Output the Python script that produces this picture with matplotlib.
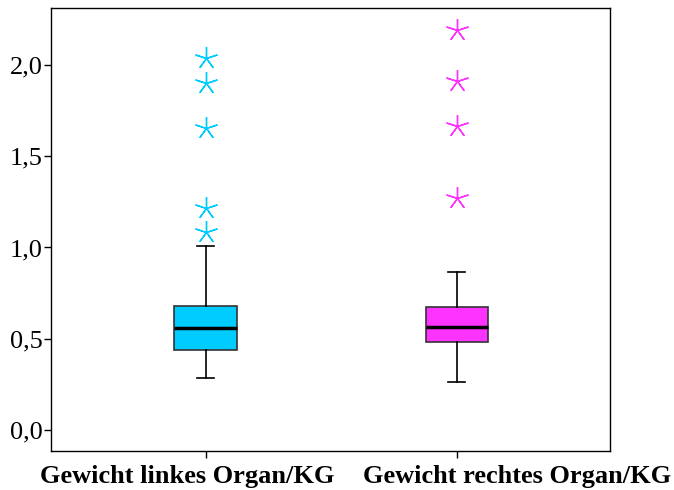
import matplotlib
matplotlib.use("Agg")
import matplotlib.pyplot as plt
import matplotlib.transforms as mtransforms
import numpy as np

categories = ["Gewicht linkes Organ/KG", "Gewicht rechtes Organ/KG"]
q1 = [0.438, 0.480]
median = [0.559, 0.566]
q3 = [0.679, 0.676]
whislo = [0.285, 0.261]
whishi = [1.010, 0.867]
outliers = [[2.036, 1.900, 1.653, 1.218, 1.087],
            [2.190, 1.912, 1.666, 1.270]]
colors = ["#00CCFF", "#FF33FF"]
yticks = [0.0, 0.5, 1.0, 1.5, 2.0]
ytick_labels = ["0,0", "0,5", "1,0", "1,5", "2,0"]

plt.rcParams['font.family'] = ['Liberation Serif', 'DejaVu Serif']

fig = plt.figure(figsize=(6.74, 4.90), dpi=100)
ax = fig.add_axes([51/674, 1-451/490, 559/674, 443/490])

stats = []
for i in range(2):
    stats.append(dict(med=median[i], q1=q1[i], q3=q3[i], whislo=whislo[i],
                      whishi=whishi[i], fliers=[], label=categories[i]))

bp = ax.bxp(stats, positions=[1, 2], widths=0.25, patch_artist=True,
            showfliers=False, capwidths=0.068,
            medianprops=dict(color="black", linewidth=2.5),
            whiskerprops=dict(color="black", linewidth=1.2),
            capprops=dict(color="black", linewidth=1.2),
            boxprops=dict(edgecolor="#333333", linewidth=1.2))
for patch, c in zip(bp['boxes'], colors):
    patch.set_facecolor(c)

for i in range(2):
    ax.plot([i + 1] * len(outliers[i]), outliers[i], linestyle="none",
            marker=(5, 2, 0), markersize=16.5, markeredgewidth=1.0,
            color=colors[i], markeredgecolor=colors[i])

ax.set_xlim(0.383, 2.61)
ax.set_ylim(-0.115, 2.312)
ax.set_yticks(yticks)
ax.set_yticklabels(ytick_labels, fontsize=19)
ax.set_xticks([1, 2])
ax.set_xticklabels(categories, fontsize=19, fontweight="bold")
ax.tick_params(axis="both", direction="out", length=5, width=1)
ax.tick_params(axis="x", pad=5)
ax.tick_params(axis="y", pad=1)
for s in ax.spines.values():
    s.set_linewidth(1)

# shift x tick labels like the reference (they are not centred on ticks)
shifts_px = [-19, 60]
for lab, dx in zip(ax.get_xticklabels(), shifts_px):
    lab.set_transform(lab.get_transform() +
                      mtransforms.ScaledTranslation(dx / 100.0, 0, fig.dpi_scale_trans))

fig.savefig("out.png", dpi=100)
